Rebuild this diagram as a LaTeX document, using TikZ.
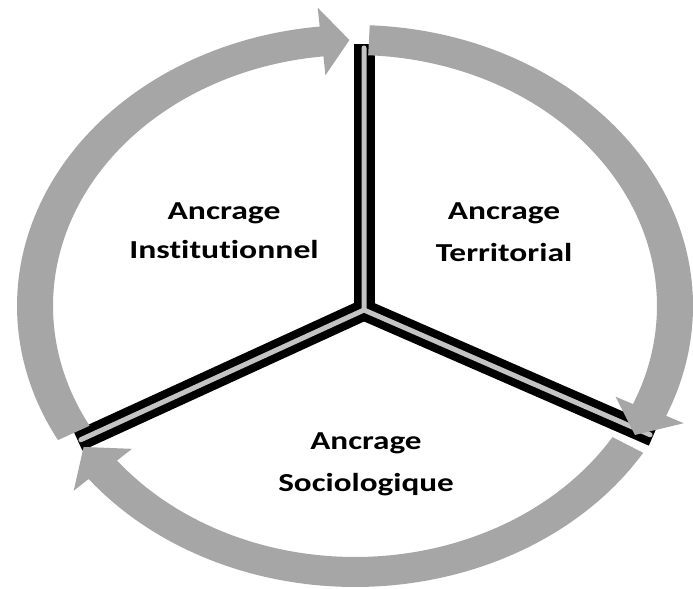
\documentclass[tikz,border=0pt]{standalone}
\usepackage{fontspec}
\setmainfont{Carlito}[Ligatures=NoCommon, RawFeature={-liga;-dlig;-clig}]
\usetikzlibrary{calc}
\definecolor{ringgray}{HTML}{A6A6A6}
\definecolor{gapgray}{HTML}{C4C4C4}
\newcommand\ringarrow[3]{%
  \fill[ringgray]
    plot[domain=#1:#2, samples=80] ({355+338*cos(\x)},{306+281*sin(\x)})
    -- ({355+357*cos(#2)},{306+300*sin(#2)})
    -- ({355+320*cos(#3)},{306+266*sin(#3)})
    -- ({355+283*cos(#2)},{306+232*sin(#2)})
    -- plot[domain=#2:#1, samples=80] ({355+302*cos(\x)},{306+251*sin(\x)})
    -- cycle;}
\tikzset{
  spokeblack/.style={draw=black, line width=21bp, line cap=butt},
  spokegap/.style={draw=gapgray, line width=5bp, line cap=round},
  lbl/.style={font=\bfseries\fontsize{26}{40}\selectfont, text=black, inner sep=0pt, align=center}
}
\begin{document}
\begin{tikzpicture}[x=1bp, y=-1bp]
\clip (0,0) rectangle (693,589);
\fill[white] (0,0) rectangle (693,589);
% spokes
\coordinate (c) at (364,310);
\coordinate (top) at (364,44);
\coordinate (bl) at (78,441);
\coordinate (br) at (653,436);
\draw[spokeblack] (c) -- (top);
\draw[spokeblack] (c) -- (bl);
\draw[spokeblack] (c) -- (br);
\fill[black] (c) circle (10.5bp);
\draw[spokegap] (c) -- ($(c)!0.985!(top)$);
\draw[spokegap] (c) -- ($(c)!0.99!(bl)$);
\draw[spokegap] (c) -- ($(c)!0.99!(br)$);
% ring arrows
\ringarrow{151.5}{264}{269}
\ringarrow{272.5}{383}{389}
\ringarrow{31.5}{142}{148}
% labels
\node[lbl] (inst) at (224,231) {\scalebox{1.3}[1]{\begin{tabular}{@{}c@{}}Ancrage\\Institutionnel\end{tabular}}};
\node[lbl] (terr) at (504,232) {\scalebox{1.29}[1]{\fontsize{26}{43}\selectfont\begin{tabular}{@{}c@{}}Ancrage\\Territorial\end{tabular}}};
\node[lbl] (soc) at (366,462) {\scalebox{1.28}[1]{\fontsize{26}{43}\selectfont\begin{tabular}{@{}c@{}}Ancrage\\Sociologique\end{tabular}}};
\end{tikzpicture}
\end{document}
